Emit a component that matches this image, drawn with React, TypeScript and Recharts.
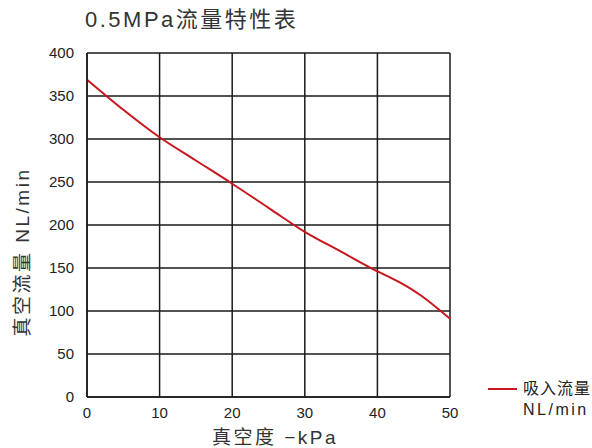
import React from "react";
import {
  LineChart,
  Line,
  XAxis,
  YAxis,
  CartesianGrid,
} from "recharts";

// vacuum level (-kPa) and suction flow (NL/min)
const vacuum = [0, 5, 10, 15, 20, 25, 30, 35, 40, 42, 44, 46, 48, 50];
const flow = [369, 334, 302, 275, 248, 220, 192, 169, 146, 138, 129, 118, 105, 91];
const xTicks = [0, 10, 20, 30, 40, 50];
const yTicks = [0, 50, 100, 150, 200, 250, 300, 350, 400];

const data = vacuum.map((v, i) => ({ kpa: v, flow: flow[i] }));

const FONT = "'Liberation Sans', 'Noto Sans CJK SC', sans-serif";

const YLabel = () => (
  <text
    x={22}
    y={252}
    transform="rotate(-90 22 252)"
    textAnchor="middle"
    dominantBaseline="central"
    fill="#333"
    fontSize={19}
    fontFamily={FONT}
    letterSpacing={2.5}
  >
    真空流量 NL/min
  </text>
);

const XLabel = () => (
  <text
    x={275}
    y={437}
    textAnchor="middle"
    dominantBaseline="central"
    fill="#333"
    fontSize={19}
    fontFamily={FONT}
    letterSpacing={2.5}
  >
    真空度 −kPa
  </text>
);

export default function App() {
  return (
    <div style={{ position: "absolute", left: 0, top: 0, width: 592, height: 448, background: "#fff" }}>
      <div
        style={{
          position: "absolute",
          left: 85,
          top: 5,
          fontFamily: FONT,
          fontSize: 22,
          color: "#333",
          letterSpacing: 2.5,
          lineHeight: "30px",
          whiteSpace: "nowrap",
        }}
      >
        0.5MPa流量特性表
      </div>
      <LineChart
        width={592}
        height={448}
        data={data}
        margin={{ top: 53, right: 142, left: 47, bottom: 21 }}
      >
        <CartesianGrid stroke="#1a1a1a" strokeWidth={1.5} />
        <XAxis
          dataKey="kpa"
          type="number"
          domain={[0, 50]}
          ticks={xTicks}
          height={30}
          tickLine={false}
          tickSize={0}
          tickMargin={10}
          axisLine={{ stroke: "#1a1a1a", strokeWidth: 1.5 }}
          tick={{ fill: "#222", fontSize: 15, fontFamily: FONT }}
          label={{ content: () => <XLabel /> }}
        />
        <YAxis
          type="number"
          domain={[0, 400]}
          ticks={yTicks}
          width={40}
          tickLine={false}
          tickSize={0}
          tickMargin={13}
          axisLine={{ stroke: "#1a1a1a", strokeWidth: 1.5 }}
          tick={{ fill: "#222", fontSize: 15, fontFamily: FONT }}
          label={{ content: () => <YLabel /> }}
        />
        <Line
          type="monotone"
          dataKey="flow"
          stroke="#c8161d"
          strokeWidth={2}
          dot={false}
          isAnimationActive={false}
        />
      </LineChart>
      <div
        style={{
          position: "absolute",
          left: 488,
          top: 378,
          fontFamily: FONT,
          color: "#222",
          fontSize: 16,
          lineHeight: "21px",
          whiteSpace: "nowrap",
        }}
      >
        <div style={{ display: "flex", alignItems: "center" }}>
          <span style={{ display: "inline-block", width: 29, height: 2, background: "#c8161d", marginRight: 6 }} />
          <span style={{ letterSpacing: 1 }}>吸入流量</span>
        </div>
        <div style={{ paddingLeft: 35, letterSpacing: 2.5 }}>NL/min</div>
      </div>
    </div>
  );
}
